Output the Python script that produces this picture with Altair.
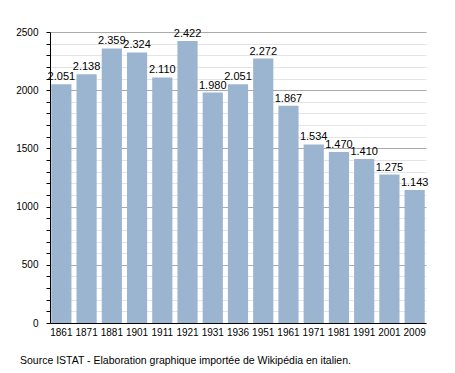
import altair as alt
import pandas as pd

years = ["1861", "1871", "1881", "1901", "1911", "1921", "1931", "1936",
         "1951", "1961", "1971", "1981", "1991", "2001", "2009"]
population = [2051, 2138, 2359, 2324, 2110, 2422, 1980, 2051,
              2272, 1867, 1534, 1470, 1410, 1275, 1143]
y_ticks = list(range(0, 2501, 100))
source_text = "Source ISTAT - Elaboration graphique importée de Wikipédia en italien."

df = pd.DataFrame({"year": years, "pop": population})
df["label"] = [f"{v:,}".replace(",", ".") for v in population]

FONT = "Liberation Sans"

x = alt.X("year:N", sort=years, title=None,
          scale=alt.Scale(paddingInner=0.2, paddingOuter=0.05),
          axis=alt.Axis(labelAngle=0, ticks=False, domainColor="black",
                        labelColor="black", labelFontSize=10, labelFont=FONT,
                        labelPadding=4, labelOverlap=False))
y = alt.Y("pop:Q", title=None,
          scale=alt.Scale(domain=[0, 2500], nice=False),
          axis=alt.Axis(values=y_ticks, tickCount=26, labelOverlap=False,
                        labelExpr="datum.value % 500 === 0 ? datum.value : ''",
                        gridColor={"condition": {"test": "datum.value % 500 === 0", "value": "#aaaaaa"},
                                   "value": "#e4e4e4"},
                        domainColor="black", tickColor="black", tickSize=4,
                        labelColor="black", labelFontSize=10, labelFont=FONT,
                        labelPadding=8))

base = alt.Chart(df).encode(x=x, y=y)
bars = base.mark_bar(color="#9bb5d1")
text = base.mark_text(baseline="bottom", dy=-2, fontSize=11,
                      font=FONT, color="black").encode(text="label:N")

chart = alt.layer(bars, text).properties(
    width=376, height=291,
    padding={"left": 42, "top": 24, "right": 20, "bottom": 50},
    autosize=alt.AutoSizeParams(type="none"),
    title=alt.TitleParams(source_text, orient="bottom", anchor="start",
                          frame="group", fontSize=10.5, font=FONT,
                          fontWeight="normal", color="black", offset=19,
                          dx=-30)
).configure_view(stroke=None)

chart.save("out.html", embed_options={"renderer": "svg", "actions": False})
